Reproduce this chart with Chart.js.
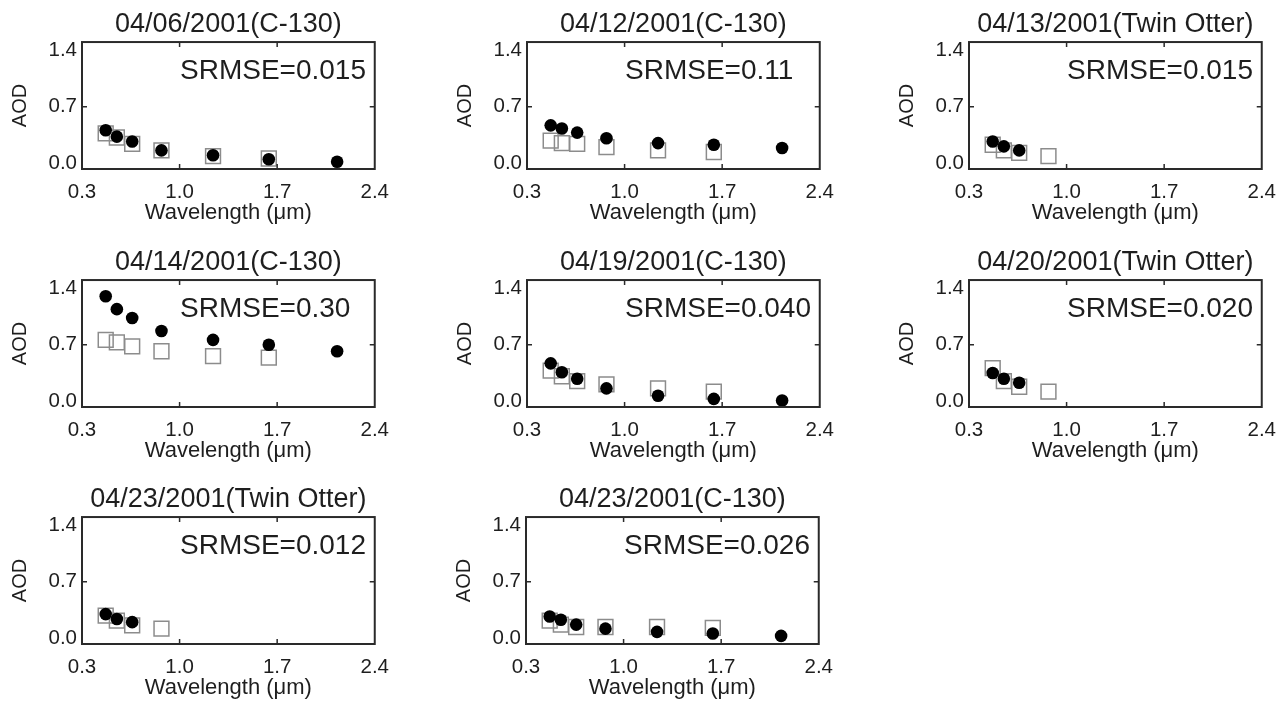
<!DOCTYPE html>
<html>
<head>
<meta charset="utf-8">
<script src="https://cdn.jsdelivr.net/npm/chart.js@4.4.1/dist/chart.umd.min.js"></script>
<style>
  body { margin: 0; background: #fff; width: 1288px; height: 703px; overflow: hidden; position: relative; }
  canvas { position: absolute; }
</style>
</head>
<body>
<div id="contenedor"></div>
<script>
// Longitudes de onda (µm) y ejes
const longitudesOnda = [0.47, 0.55, 0.66, 0.87, 1.24, 1.64, 2.13];
const ticksX = [0.3, 1.0, 1.7, 2.4];
const ticksY = [0.0, 0.7, 1.4];
const marcasX = [1.0, 1.7];
const marcasY = [0.7];

const titulos = [
  '04/06/2001(C-130)', '04/12/2001(C-130)', '04/13/2001(Twin Otter)',
  '04/14/2001(C-130)', '04/19/2001(C-130)', '04/20/2001(Twin Otter)',
  '04/23/2001(Twin Otter)', '04/23/2001(C-130)'
];
const valoresSrmse = ['0.015', '0.11', '0.015', '0.30', '0.040', '0.020', '0.012', '0.026'];

// Círculos negros
const circulos0406 = [0.41, 0.33, 0.27, 0.16, 0.10, 0.05, 0.02];
const circulos0412 = [0.47, 0.43, 0.38, 0.31, 0.25, 0.23, 0.19];
const circulos0413 = [0.27, 0.21, 0.16];
const circulos0414 = [1.30, 1.14, 1.03, 0.87, 0.76, 0.70, 0.62];
const circulos0419 = [0.47, 0.36, 0.28, 0.16, 0.07, 0.03, 0.01];
const circulos0420 = [0.35, 0.28, 0.23];
const circulos0423to = [0.30, 0.24, 0.20];
const circulos0423c = [0.27, 0.23, 0.17, 0.12, 0.08, 0.06, 0.03];

// Cuadros grises
const cuadros0406 = [0.37, 0.32, 0.24, 0.16, 0.09, 0.06];
const cuadros0412 = [0.28, 0.25, 0.24, 0.20, 0.16, 0.14];
const cuadros0413 = [0.23, 0.16, 0.13, 0.09];
const cuadros0414 = [0.76, 0.73, 0.68, 0.62, 0.56, 0.54];
const cuadros0419 = [0.38, 0.31, 0.25, 0.21, 0.16, 0.12];
const cuadros0420 = [0.41, 0.25, 0.18, 0.12];
const cuadros0423to = [0.28, 0.22, 0.16, 0.12];
const cuadros0423c = [0.22, 0.17, 0.14, 0.14, 0.14, 0.13];

const circulos = [circulos0406, circulos0412, circulos0413, circulos0414, circulos0419, circulos0420, circulos0423to, circulos0423c];
const cuadros = [cuadros0406, cuadros0412, cuadros0413, cuadros0414, cuadros0419, cuadros0420, cuadros0423to, cuadros0423c];

// Posición de cada lienzo en la página
const posiciones = [
  [0, 0], [445, 0], [887, 0],
  [0, 238], [445, 238], [887, 238],
  [0, 475], [444, 475]
];

const FUENTE = '"Liberation Sans", Arial, Helvetica, sans-serif';
const COLOR_TEXTO = '#1e1e1e';
Chart.defaults.font.family = FUENTE;
Chart.defaults.color = COLOR_TEXTO;

function aPuntos(valores) {
  return valores.map((v, i) => ({ x: longitudesOnda[i], y: v }));
}

// Marco, marcas hacia dentro y texto SRMSE
const marcoPlugin = {
  id: 'marco',
  afterDraw(chart, args, opts) {
    const ctx = chart.ctx;
    const area = chart.chartArea;
    const sx = chart.scales.x;
    const sy = chart.scales.y;
    ctx.save();
    ctx.strokeStyle = '#2a2a2a';
    ctx.lineWidth = 2;
    ctx.strokeRect(area.left, area.top, area.right - area.left, area.bottom - area.top);
    ctx.lineWidth = 1.5;
    ctx.beginPath();
    marcasX.forEach(v => {
      const px = sx.getPixelForValue(v);
      ctx.moveTo(px, area.bottom); ctx.lineTo(px, area.bottom - 5);
      ctx.moveTo(px, area.top); ctx.lineTo(px, area.top + 5);
    });
    marcasY.forEach(v => {
      const py = sy.getPixelForValue(v);
      ctx.moveTo(area.left, py); ctx.lineTo(area.left + 5, py);
      ctx.moveTo(area.right, py); ctx.lineTo(area.right - 5, py);
    });
    ctx.stroke();
    ctx.fillStyle = COLOR_TEXTO;
    ctx.font = '28px ' + FUENTE;
    ctx.textAlign = 'left';
    ctx.textBaseline = 'middle';
    ctx.fillText('SRMSE=' + opts.texto, area.left + 98, area.top + 29);
    ctx.restore();
  }
};

function crearPanel(i) {
  const canvas = document.createElement('canvas');
  canvas.width = 400;
  canvas.height = 230;
  canvas.style.left = posiciones[i][0] + 'px';
  canvas.style.top = posiciones[i][1] + 'px';
  document.getElementById('contenedor').appendChild(canvas);

  new Chart(canvas.getContext('2d'), {
    type: 'scatter',
    data: {
      datasets: [
        {
          data: aPuntos(circulos[i]),
          backgroundColor: '#000',
          borderColor: '#000',
          borderWidth: 0,
          pointRadius: 6.3,
          pointStyle: 'circle'
        },
        {
          data: aPuntos(cuadros[i]),
          backgroundColor: 'rgba(0,0,0,0)',
          borderColor: '#8c8c8c',
          borderWidth: 1.5,
          pointRadius: 10.5,
          pointStyle: 'rect'
        }
      ]
    },
    options: {
      responsive: false,
      animation: false,
      events: [],
      layout: { padding: { left: 0, top: 0, right: 25, bottom: 0 } },
      plugins: {
        legend: { display: false },
        tooltip: { enabled: false },
        title: {
          display: true,
          text: titulos[i],
          fullSize: false,
          color: COLOR_TEXTO,
          font: { size: 27, weight: 'normal', lineHeight: 1.15 },
          padding: { top: 9, bottom: 2 }
        },
        marco: { texto: valoresSrmse[i] }
      },
      scales: {
        x: {
          type: 'linear',
          min: 0.3,
          max: 2.4,
          grid: { display: false, drawTicks: false },
          border: { display: false },
          afterBuildTicks: eje => { eje.ticks = ticksX.map(v => ({ value: v })); },
          afterFit: eje => { eje.height = 61; },
          ticks: { padding: 11, font: { size: 20.5 }, callback: v => v.toFixed(1) },
          title: { display: true, text: 'Wavelength (\u03bcm)', font: { size: 22 }, padding: { top: 0, bottom: 4 } }
        },
        y: {
          type: 'linear',
          min: -0.07,
          max: 1.5,
          grid: { display: false, drawTicks: false },
          border: { display: false },
          afterBuildTicks: eje => { eje.ticks = ticksY.map(v => ({ value: v })); },
          afterFit: eje => { eje.width = 82; },
          ticks: { padding: 5, font: { size: 20.5 }, callback: v => v.toFixed(1) },
          title: { display: true, text: 'AOD', font: { size: 20 }, padding: { top: 8, bottom: 0 } }
        }
      }
    },
    plugins: [marcoPlugin]
  });
}

for (let i = 0; i < titulos.length; i++) {
  crearPanel(i);
}
</script>
</body>
</html>
